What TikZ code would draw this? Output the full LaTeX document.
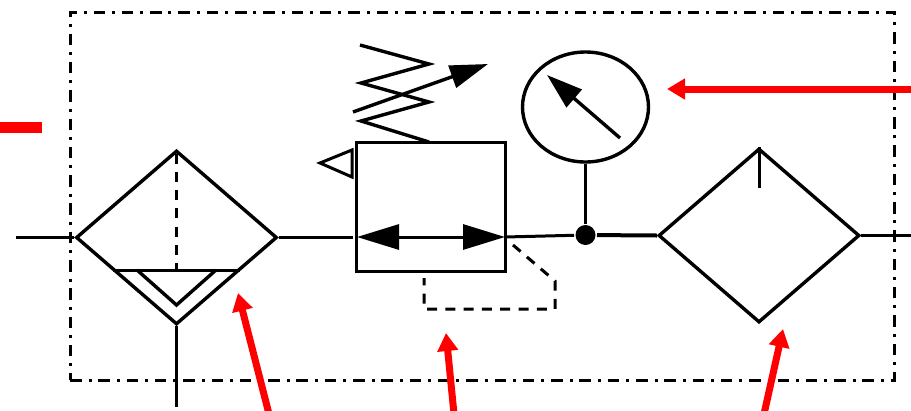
\documentclass[tikz,border=0pt]{standalone}
\usepackage{tikz}
\usetikzlibrary{arrows.meta,shapes.geometric}
\definecolor{markred}{RGB}{255,0,0}

\begin{document}
\begin{tikzpicture}[x=1pt,y=-1pt,line width=3pt,
  diam/.style={diamond,draw,line width=3.4pt,inner sep=0pt,aspect=1.155,minimum width=201pt,minimum height=174pt},
  pilot/.style={draw,dash pattern=on 10pt off 8.3pt},
  bigtip/.style={-{Triangle[length=#1,width=23pt]}},
  callout/.style={draw=markred,line width=7pt,-{Triangle[length=18pt,width=20pt]}}]
\clip (0,0) rectangle (911,410);
\node [draw,dash pattern=on 11.5pt off 7pt on 3pt off 6.8pt,inner sep=0pt,minimum width=824pt,minimum height=368pt] (frame) at (482,196) {};

\node [diam] (filter) at (176.5,237.5) {};
\node [diam] (dryer) at (759,235.5) {};
\node [draw,inner sep=0pt,minimum width=149pt,minimum height=129pt] (valve) at (430.5,206.5) {};
\node [ellipse,draw,line width=3.4pt,inner sep=0pt,minimum width=126pt,minimum height=110pt] (gauge) at (585.5,107) {};
\node [circle,fill=black,inner sep=0pt,minimum size=20pt] (tee) at (585.5,235) {};

\coordinate (inlet) at (16,237.5);
\coordinate (drain) at (176.5,407);
\coordinate (valvein) at (353,237.5);
\coordinate (flowl) at (357,237);
\coordinate (flowr) at (505,237);
\coordinate (outlet) at (911,235.5);
\coordinate (bowll) at (113,270);
\coordinate (bowlr) at (240,270);

\draw (inlet) -- (filter.west);
\draw (filter.east) -- (valvein);
\draw (flowr) -- (tee);
\draw [line width=4pt] (tee) -- (dryer.west);
\draw (dryer.east) -- (outlet);
\draw (filter.south) -- (drain);
\draw (gauge.south) -- (tee);

\draw (bowll) -- (bowlr);
\coordinate (cupl) at (137,270);
\coordinate (cupm) at (176.5,305);
\coordinate (cupr) at (216,270);
\draw [line width=3.4pt] (cupl) -- (cupm) -- (cupr);
\coordinate (bowlm) at (176.5,270);
\draw [pilot,dash phase=13.6pt] (filter.north) -- (bowlm);
\coordinate (stem) at (759,188);
\draw (dryer.north) -- (stem);

\draw [{Triangle[length=42pt,width=25pt]}-{Triangle[length=42pt,width=25pt]}] (flowl) -- (flowr);

\coordinate (pa) at (513,245);
\coordinate (pb) at (555,281);
\coordinate (pc) at (555,309);
\coordinate (pd) at (424,309);
\coordinate (pe) at (424,278);
\draw [pilot] (pa) -- (pb) -- (pc) -- (pd) -- (pe);

\coordinate (s0) at (360,45);
\coordinate (s1) at (429,64);
\coordinate (s2) at (361,83);
\coordinate (s3) at (429,102);
\coordinate (s4) at (361,121);
\coordinate (s5) at (429,142);
\draw [line width=3.4pt] (s0) -- (s1) -- (s2) -- (s3) -- (s4) -- (s5);

\coordinate (adj0) at (353,112);
\coordinate (adj1) at (488,64);
\draw [line width=3.4pt,bigtip=38pt] (adj0) -- (adj1);
\coordinate (ndl0) at (620,138);
\coordinate (ndl1) at (547,75);
\draw [line width=3.4pt,bigtip=36pt] (ndl0) -- (ndl1);

\coordinate (t0) at (320,163);
\coordinate (t1) at (352,150);
\coordinate (t2) at (352,177);
\draw (t0) -- (t1) -- (t2) -- cycle;

\coordinate (c1a) at (911,89);
\coordinate (c1b) at (667,89);
\draw [callout] (c1a) -- (c1b);
\coordinate (c2a) at (269,414);
\coordinate (c2b) at (238,293);
\draw [callout] (c2a) -- (c2b);
\coordinate (c3a) at (454,414);
\coordinate (c3b) at (446,333);
\draw [callout] (c3a) -- (c3b);
\coordinate (c4a) at (764,414);
\coordinate (c4b) at (783,329);
\draw [callout] (c4a) -- (c4b);

\coordinate (ml) at (0,127.5);
\coordinate (mr) at (42,127.5);
\draw [draw=markred,line width=11pt] (ml) -- (mr);
\end{tikzpicture}
\end{document}
